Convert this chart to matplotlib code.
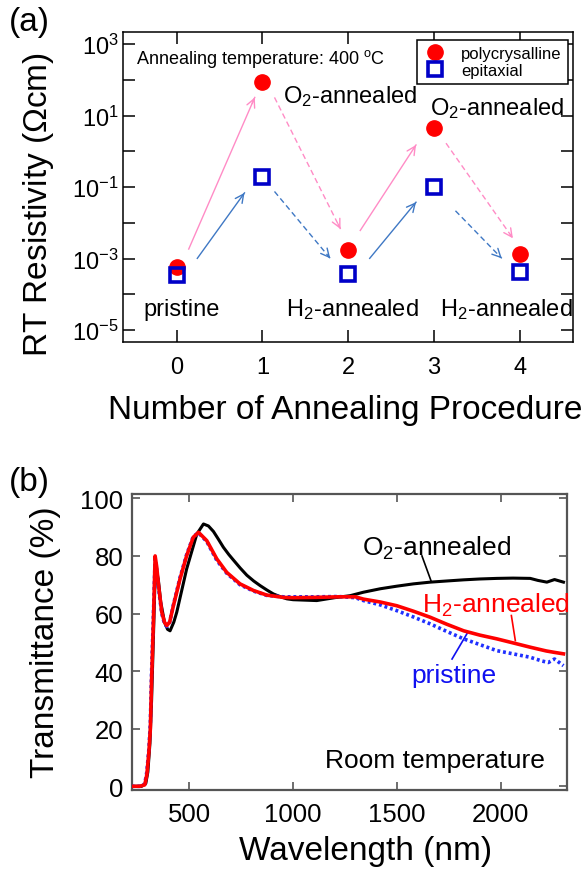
import matplotlib
matplotlib.use('Agg')
import matplotlib.pyplot as plt
import numpy as np
from matplotlib.ticker import FixedLocator, NullFormatter, FuncFormatter

plt.rcParams['font.family'] = ['Liberation Sans', 'DejaVu Sans']
plt.rcParams['mathtext.fontset'] = 'custom'
plt.rcParams['mathtext.rm'] = 'Liberation Sans'
plt.rcParams['mathtext.it'] = 'Liberation Sans:italic'
plt.rcParams['mathtext.bf'] = 'Liberation Sans:bold'
plt.rcParams['mathtext.default'] = 'regular'

# ---------------- Panel (a) data ----------------
steps = [0, 1, 2, 3, 4]
rho_poly = [5.8e-4, 85.0, 1.8e-3, 4.5, 1.35e-3]
rho_epi = [3.5e-4, 0.196, 3.8e-4, 0.10, 4.2e-4]
ytick_exps_a = [-5, -3, -1, 1, 3]
yminor_exps_a = [-4, -2, 0, 2]

# arrows: x0, log10(y0), x1, log10(y1), dashed?
poly_arrows = [
    (0.14, -2.73, 0.91, 1.51, False),
    (1.14, 1.51, 1.91, -2.17, True),
    (2.14, -2.21, 2.79, 0.18, False),
    (3.14, 0.23, 3.92, -2.43, True),
]
epi_arrows = [
    (0.24, -2.99, 0.79, -1.16, False),
    (1.14, -1.12, 1.79, -2.99, True),
    (2.25, -2.99, 2.79, -1.42, False),
    (3.25, -1.66, 3.79, -2.99, True),
]

# ---------------- Panel (b) data ----------------
wl_h2 = [222, 260, 285, 295, 305, 312, 318, 327, 335, 343, 351, 367, 380, 391, 405,
         423, 455, 487, 519, 544, 584, 632, 680, 744, 809, 873, 953, 1000, 1100, 1220,
         1300, 1339, 1420, 1500, 1580, 1661, 1740, 1822, 1900, 1982, 2060, 2143, 2220,
         2260, 2303]
T_h2 = [0, 0, 0.5, 4, 12, 20, 37, 58, 80, 76, 70, 60.5, 57, 55.8, 57,
        62.7, 72, 80.1, 86.5, 88.2, 85.3, 79, 74.3, 70.3, 68, 66.4, 65.6, 65.5, 65.6, 65.8,
        65.8, 65, 64, 62.7, 60.8, 58.7, 56.3, 54, 52.5, 51.2, 49.8, 48.3, 47,
        46.5, 46]

wl_pri = [222, 260, 285, 295, 305, 312, 318, 327, 335, 343, 351, 367, 380, 391, 405,
          423, 455, 487, 519, 544, 584, 632, 680, 744, 809, 873, 953, 1000, 1100, 1220,
          1300, 1339, 1420, 1500, 1580, 1661, 1740, 1822, 1900, 1982, 2060, 2143, 2200,
          2230, 2260, 2303]
T_pri = [0, 0, 0.8, 5, 13, 22, 40, 60, 79, 75, 69, 60, 56.5, 55.5, 57,
         63, 72.5, 80.5, 86.8, 88, 85, 78.5, 74, 70, 67.8, 66.3, 65.8, 65.8, 65.8, 65.9,
         65.5, 64.5, 63, 61, 58.8, 56.4, 53.8, 51.2, 49.2, 47.1, 46, 44.8, 43.5,
         43, 44.2, 41.9]

wl_o2 = [222, 270, 290, 300, 310, 318, 326, 333, 340, 350, 362, 380, 395, 407, 425,
         439, 487, 536, 568, 592, 616, 640, 664, 690, 712, 745, 777, 810, 841, 875, 905,
         940, 970, 1000, 1114, 1200, 1275, 1339, 1420, 1500, 1580, 1661, 1740, 1822, 1900,
         1982, 2060, 2143, 2180, 2223, 2260, 2303]
T_o2 = [0, 0, 1, 5, 15, 30, 50, 68, 75, 72, 64, 57, 54.5, 54, 57,
        60.4, 75.5, 87.6, 91.1, 90.4, 88.5, 85.8, 83.0, 80.5, 78.6, 75.8, 73.3, 71.3, 69.7,
        68.1, 66.8, 65.8, 65.1, 64.8, 64.5, 65.5, 66.2, 67.4, 68.6, 69.5, 70.3, 70.9, 71.3,
        71.7, 72, 72.2, 72.3, 72.2, 71.5, 70.9, 71.8, 70.9]

xticks_b = [500, 1000, 1500, 2000]
yticks_b = [0, 20, 40, 60, 80, 100]

PINK = '#FF8CC6'
BLUEA = '#3F78C4'
RED = '#FF0000'
BLUE = '#0000C8'

fig = plt.figure(figsize=(5.85, 8.70), dpi=100)

# ================= Panel (a) =================
ax1 = fig.add_axes([0.2103, 0.6061, 0.770, 0.3556])
ax1.set_yscale('log')
ax1.set_xlim(-0.626, 4.626)
ax1.set_ylim(10 ** -5.32, 10 ** 3.33)


def draw_arrow(ax, a, color):
    x0, ly0, x1, ly1, dashed = a
    ls = (0, (4, 2.5)) if dashed else '-'
    ax.plot([x0, x1], [10 ** ly0, 10 ** ly1], color=color, lw=1.0, ls=ls, zorder=1)
    f = 0.04
    xt = x1 - f * (x1 - x0)
    lyt = ly1 - f * (ly1 - ly0)
    ax.annotate('', xy=(x1, 10 ** ly1), xytext=(xt, 10 ** lyt),
                arrowprops=dict(arrowstyle='->', color=color, lw=1.0,
                                shrinkA=0, shrinkB=0, mutation_scale=15), zorder=1)


for a in poly_arrows:
    draw_arrow(ax1, a, PINK)
for a in epi_arrows:
    draw_arrow(ax1, a, BLUEA)

ax1.plot(steps, rho_poly, 'o', color=RED, ms=11, mec=RED, zorder=3, label='polycrysalline')
ax1.plot(steps, rho_epi, 's', mfc='none', mec=BLUE, mew=2.6, ms=10.5, zorder=4, label='epitaxial')

ax1.yaxis.set_major_locator(FixedLocator([10.0 ** e for e in ytick_exps_a]))
ax1.yaxis.set_minor_locator(FixedLocator([10.0 ** e for e in yminor_exps_a]))
ax1.yaxis.set_major_formatter(FuncFormatter(lambda v, p: r'$10^{%d}$' % int(round(np.log10(v)))))
ax1.yaxis.set_minor_formatter(NullFormatter())
ax1.set_xticks(steps)
ax1.set_xticklabels([str(s) for s in steps])
ax1.tick_params(which='both', direction='in', length=8.5, width=1.1, top=True, right=True,
                labelsize=17, color='black')
ax1.tick_params(axis='x', pad=10)
ax1.tick_params(axis='y', pad=3)
for sp in ax1.spines.values():
    sp.set_linewidth(1.1)
    sp.set_color('black')

ax1.text(-0.478, 10 ** 2.61, r'Annealing temperature: 400 $^{o}$C', fontsize=13,
         ha='left', va='center')
ax1.text(1.235, 10 ** 1.56, r'O$_{2}$-annealed', fontsize=17, ha='left', va='center')
ax1.text(2.95, 10 ** 1.23, r'O$_{2}$-annealed', fontsize=17, ha='left', va='center')
ax1.text(-0.39, 10 ** -4.40, 'pristine', fontsize=17, ha='left', va='center')
ax1.text(1.28, 10 ** -4.40, r'H$_{2}$-annealed', fontsize=17, ha='left', va='center')
ax1.text(3.07, 10 ** -4.40, r'H$_{2}$-annealed', fontsize=17, ha='left', va='center')

leg = ax1.legend(loc='upper right', bbox_to_anchor=(0.987, 0.976), borderaxespad=0,
                 fontsize=12, frameon=True, fancybox=False, framealpha=1,
                 edgecolor='black', handlelength=1.5, handletextpad=0.8,
                 labelspacing=0.15, borderpad=0.35, numpoints=1)
leg.get_frame().set_linewidth(1.1)

fig.text(0.051, 0.9736, '(a)', fontsize=24, ha='center', va='center')
fig.text(0.065, 0.7644, r'RT Resistivity ($\Omega$cm)', fontsize=24, rotation=90,
         ha='center', va='center')
fig.text(345 / 585, 1 - 395 / 870, 'Number of Annealing Procedure', fontsize=24,
         ha='center', va='top')

# ================= Panel (b) =================
ax2 = fig.add_axes([0.2251, 0.0911, 0.7441, 0.3399])
ax2.set_xlim(222, 2320)
ax2.set_ylim(-1.2, 101.5)

ax2.plot(wl_o2, T_o2, color='black', lw=2.2, zorder=2)
ax2.plot(wl_pri, T_pri, color='#2030FF', lw=2.6, ls=(0, (0.8, 0.8)), zorder=3)
ax2.plot(wl_h2, T_h2, color=RED, lw=2.6, zorder=4)

ax2.set_xticks(xticks_b)
ax2.set_yticks(yticks_b)
ax2.tick_params(which='both', direction='in', length=6, width=1.2, top=True, right=True,
                labelsize=18.5, color='#555555')
ax2.tick_params(axis='x', pad=9)
ax2.tick_params(axis='y', pad=6)
for sp in ax2.spines.values():
    sp.set_linewidth(1.6)
    sp.set_color('#555555')

ax2.text(1333, 83, r'O$_{2}$-annealed', fontsize=19, ha='left', va='center', color='black')
ax2.plot([1621, 1665], [80, 71.3], color='black', lw=1.2)
ax2.text(1621, 63.3, r'H$_{2}$-annealed', fontsize=19, ha='left', va='center', color=RED)
ax2.plot([2052, 2071], [59.3, 50.6], color=RED, lw=1.2)
ax2.text(1569, 38.7, 'pristine', fontsize=19, ha='left', va='center', color='#1010F0')
ax2.plot([1766, 1838], [44.2, 53.0], color='#1010F0', lw=1.2)
ax2.text(1154, 9.1, 'Room temperature', fontsize=19, ha='left', va='center', color='black')

fig.text(0.051, 1 - 483 / 870, '(b)', fontsize=24, ha='center', va='center')
fig.text(46 / 585, 1 - 642 / 870, 'Transmittance (%)', fontsize=24, rotation=90,
         ha='center', va='center')
fig.text(366 / 585, 1 - 851.5 / 870, 'Wavelength (nm)', fontsize=24, ha='center',
         va='center')

fig.savefig('out.png', dpi=100)
